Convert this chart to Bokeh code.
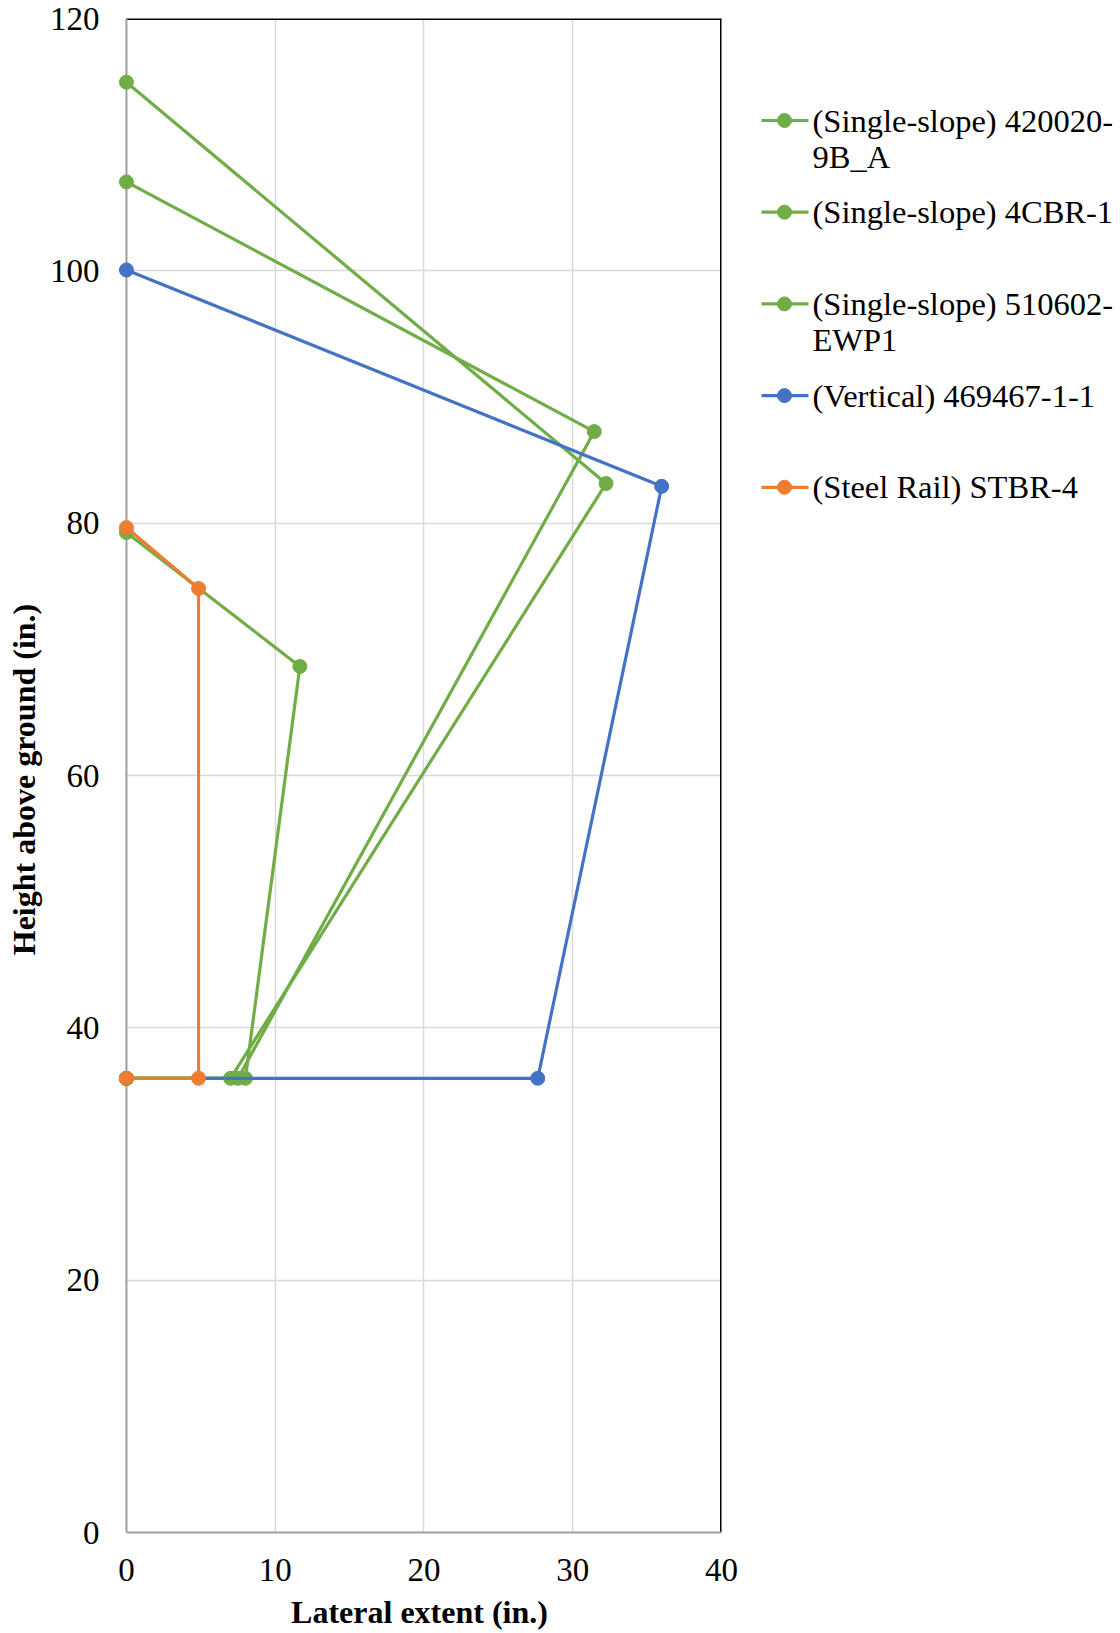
from bokeh.plotting import figure
from bokeh.models import Range1d, FixedTicker, ColumnDataSource
from bokeh.layouts import row
from bokeh.core.properties import value
from bokeh.embed import file_html
from bokeh.resources import INLINE

# ---- data ----
series_labels = [
    ["(Single-slope) 420020-", "9B_A"],
    ["(Single-slope) 4CBR-1"],
    ["(Single-slope) 510602-", "EWP1"],
    ["(Vertical) 469467-1-1"],
    ["(Steel Rail) STBR-4"],
]
series_colors = ["#70AD47", "#70AD47", "#70AD47", "#4472C4", "#ED7D31"]

ss_420020_x = [0, 7.5, 31.45, 0]
ss_420020_y = [36, 36, 87.26, 107.05]
ss_4cbr_x = [0, 7.0, 32.24, 0]
ss_4cbr_y = [36, 36, 83.14, 114.95]
ss_510602_x = [0, 8.0, 11.66, 0]
ss_510602_y = [36, 36, 68.64, 79.26]
vert_469467_x = [0, 27.65, 35.98, 0]
vert_469467_y = [36, 36, 82.92, 100.07]
steel_stbr4_x = [0, 4.85, 4.85, 0]
steel_stbr4_y = [36, 36, 74.82, 79.65]

x_ticks = [0, 10, 20, 30, 40]
y_ticks = [0, 20, 40, 60, 80, 100, 120]

series_x = [ss_420020_x, ss_4cbr_x, ss_510602_x, vert_469467_x, steel_stbr4_x]
series_y = [ss_420020_y, ss_4cbr_y, ss_510602_y, vert_469467_y, steel_stbr4_y]

FONT = "Liberation Serif"
XPAD = 0.6  # extra room left of x=0 so markers on the axis are not clipped

X0, X1 = x_ticks[0], x_ticks[-1]
Y0, Y1 = y_ticks[0], y_ticks[-1]

p = figure(
    frame_width=604, frame_height=1514,
    x_range=Range1d(X0 - XPAD, X1), y_range=Range1d(Y0, Y1),
    output_backend="svg", toolbar_location=None,
    min_border_left=117, min_border_right=19, min_border_top=18, min_border_bottom=101,
)
p.background_fill_color = "white"
p.border_fill_color = "white"
p.outline_line_color = None

# white strip hiding grid stubs left of x=0
p.quad(left=[X0 - XPAD], right=[X0], bottom=[Y0], top=[Y1],
       fill_color="white", line_color=None)

# frame border on top and right (black)
p.segment(x0=[X0, X1], y0=[Y1, Y0], x1=[X1, X1], y1=[Y1, Y1],
          line_color="black", line_width=3)
# gray vertical axis line at x = 0
p.segment(x0=[X0], y0=[Y0], x1=[X0], y1=[Y1], line_color="#A0A0A0", line_width=2)

for xs, ys, c in zip(series_x, series_y, series_colors):
    src = ColumnDataSource(dict(x=xs, y=ys))
    p.line("x", "y", source=src, line_color=c, line_width=3.2)
    p.scatter("x", "y", source=src, size=14, fill_color=c, line_color=c)

p.xaxis.ticker = FixedTicker(ticks=x_ticks)
p.yaxis.ticker = FixedTicker(ticks=y_ticks)
p.xgrid.ticker = FixedTicker(ticks=x_ticks)
p.ygrid.ticker = FixedTicker(ticks=y_ticks)
p.grid.grid_line_color = "#D9D9D9"
p.grid.grid_line_width = 1.5

p.xaxis.bounds = (X0, X1)

for ax in (p.xaxis, p.yaxis):
    ax.axis_line_color = "#A0A0A0"
    ax.axis_line_width = 2
    ax.major_tick_line_color = None
    ax.minor_tick_line_color = None
    ax.major_tick_out = 0
    ax.major_tick_in = 0
    ax.major_label_text_font = FONT
    ax.major_label_text_font_size = "33px"
    ax.major_label_text_color = "black"
    ax.axis_label_text_font = FONT
    ax.axis_label_text_font_size = "32px"
    ax.axis_label_text_font_style = "bold"
    ax.axis_label_text_color = "black"

p.yaxis.axis_line_color = None

p.xaxis.axis_label = "Lateral extent (in.)"
p.yaxis.axis_label = "Height above  ground (in.)"
p.xaxis.major_label_standoff = 26
p.yaxis.major_label_standoff = 18
p.xaxis.axis_label_standoff = 10
p.yaxis.axis_label_standoff = 5

# ---- legend panel (pixel coordinates; frame aligned with main frame 18..1532) ----
LW = 1120 - (117 + 604 + 19)
FT, FB = 18, 18 + 1514
lg = figure(width=LW, height=FB + 101, x_range=Range1d(0, LW), y_range=Range1d(FB, FT),
            output_backend="svg", toolbar_location=None,
            min_border_left=0, min_border_right=0, min_border_top=FT, min_border_bottom=101)
lg.axis.visible = False
lg.grid.visible = False
lg.outline_line_color = None
lg.background_fill_color = "white"
lg.border_fill_color = "white"

y0 = 120
step = 91.7
line_gap = 36
for i, (lab, c) in enumerate(zip(series_labels, series_colors)):
    yc = y0 + i * step
    lg.line([21, 68], [yc, yc], line_color=c, line_width=3.2)
    lg.scatter([44], [yc], size=14, fill_color=c, line_color=c)
    for j, t in enumerate(lab):
        lg.text([72], [yc + j * line_gap], text=[t], text_font=value(FONT),
                text_font_size="32.5px", text_baseline="middle", text_align="left",
                text_color="black")

layout = row(p, lg, spacing=0)
open("out.html", "w").write(file_html(layout, INLINE))
